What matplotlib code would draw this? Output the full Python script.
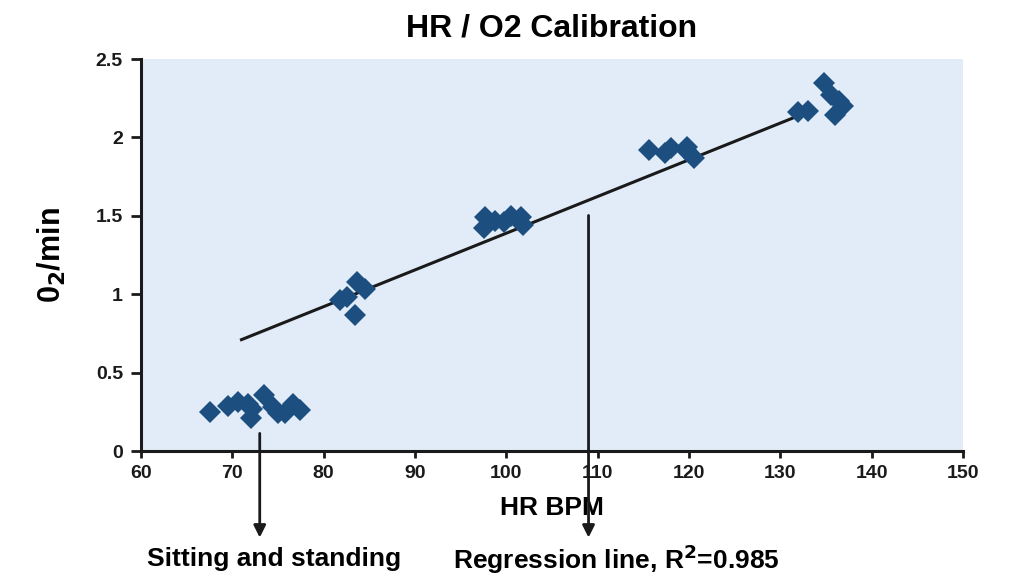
import matplotlib
matplotlib.use("Agg")
import matplotlib.pyplot as plt

plt.rcParams['font.family'] = ['Liberation Sans', 'DejaVu Sans']
plt.rcParams['font.weight'] = 'bold'

# data
hr = [67.6, 69.5, 70.6, 71.7, 72.0, 72.2, 73.5, 74.5, 75.0, 75.8, 76.6, 77.4,
      81.8, 82.6, 83.4, 83.7, 84.5,
      97.7, 97.6, 98.8, 99.7, 100.5, 101.6, 101.8,
      115.6, 117.4, 118.0, 119.7, 119.8, 120.6,
      131.9, 133.0, 134.8, 135.6, 136.0, 136.4, 136.9]
o2 = [0.25, 0.29, 0.31, 0.30, 0.21, 0.27, 0.36, 0.28, 0.24, 0.24, 0.30, 0.26,
      0.96, 0.98, 0.87, 1.08, 1.03,
      1.49, 1.42, 1.47, 1.46, 1.50, 1.49, 1.44,
      1.92, 1.90, 1.93, 1.92, 1.94, 1.87,
      2.16, 2.17, 2.35, 2.27, 2.14, 2.23, 2.20]
line_x = [71.0, 132.5]
line_y = [0.71, 2.15]

fig = plt.figure(figsize=(10.17, 5.85), dpi=100)
ax = fig.add_axes([141/1017, 1 - 451/585, (963-141)/1017, (451-59)/585])
ax.set_facecolor('#E1ECF8')

ax.plot(line_x, line_y, color='#1a1a1a', lw=2.2, zorder=2)
ax.plot(hr, o2, 'D', color='#1C4F80', markersize=11, markeredgewidth=0, zorder=3)

ax.set_xlim(60, 150)
ax.set_ylim(0, 2.5)
ax.set_xticks(range(60, 151, 10))
ax.set_yticks([0, 0.5, 1, 1.5, 2, 2.5])
ax.set_yticklabels(['0', '0.5', '1', '1.5', '2', '2.5'])
for s in ['top', 'right']:
    ax.spines[s].set_visible(False)
for s in ['left', 'bottom']:
    ax.spines[s].set_linewidth(2.2)
    ax.spines[s].set_color('#1a1a1a')
ax.tick_params(width=2, labelsize=14, colors='#1a1a1a')
ax.tick_params(axis='x', length=5, pad=5)
ax.tick_params(axis='y', length=7, pad=6)

ax.set_title('HR / O2 Calibration', fontsize=23, fontweight='bold', pad=16)
ax.set_xlabel('HR BPM', fontsize=19, fontweight='bold', labelpad=10)
ax.set_ylabel('0$_\\mathbf{2}$/min', fontsize=22, fontweight='bold', labelpad=20)

arrow = dict(arrowstyle='-|>', color='#1a1a1a', lw=2, mutation_scale=18)
ax.annotate('', xy=(73.0, -0.57), xytext=(73.0, 0.13), arrowprops=arrow,
            annotation_clip=False)
ax.annotate('', xy=(109.0, -0.57), xytext=(109.0, 1.52), arrowprops=arrow,
            annotation_clip=False)
ax.text(74.6, -0.69, 'Sitting and standing', ha='center', va='center',
        fontsize=19, fontweight='bold', clip_on=False)
ax.text(94.2, -0.69, 'Regression line, R$^\\mathbf{2}$=0.985', ha='left', va='center',
        fontsize=19, fontweight='bold', clip_on=False)

fig.savefig('out.png', dpi=100)
